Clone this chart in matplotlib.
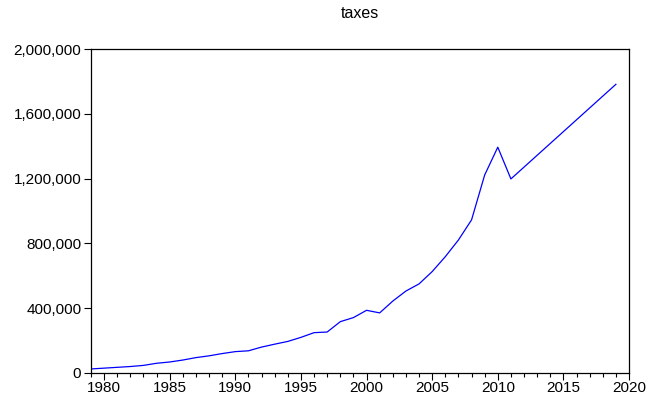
import matplotlib
matplotlib.use('Agg')
import matplotlib.pyplot as plt
from matplotlib.ticker import FuncFormatter, MultipleLocator

plt.rcParams['font.family'] = ['Liberation Sans', 'DejaVu Sans']

years = list(range(1979, 2012)) + [2019]
taxes = [25000, 30000, 35000, 40000, 47000, 60000, 68000, 80000, 95000, 106000,
         120000, 132000, 137000, 160000, 178000, 195000, 220000, 249000, 253000,
         317000, 342000, 387000, 371000, 444000, 506000, 550000, 626000, 718000,
         821000, 945000, 1222000, 1394000, 1198000, 1782000]

fig = plt.figure(figsize=(6.48, 4.0), dpi=100)
ax = fig.add_axes([0.1404, 0.0675, 0.8303, 0.81])

ax.plot(years, taxes, color='#0000ff', linewidth=0.9)

ax.set_xlim(1979, 2020)
ax.set_ylim(0, 2000000)
ax.xaxis.set_major_locator(MultipleLocator(5))
ax.xaxis.set_minor_locator(MultipleLocator(1))
ax.yaxis.set_major_locator(MultipleLocator(400000))
ax.yaxis.set_major_formatter(FuncFormatter(lambda v, p: f'{int(v):,}'))

ax.tick_params(axis='both', which='major', direction='out', length=5, width=0.8,
               labelsize=11, colors='black')
ax.tick_params(axis='x', which='minor', direction='out', length=3, width=0.8)
ax.tick_params(axis='y', which='minor', left=False)
ax.tick_params(axis='x', pad=1)
ax.tick_params(axis='y', pad=2)

for s in ax.spines.values():
    s.set_linewidth(0.9)
    s.set_color('black')

ax.set_title('taxes', fontsize=11.5, pad=22)

fig.savefig('out.png', dpi=100)
